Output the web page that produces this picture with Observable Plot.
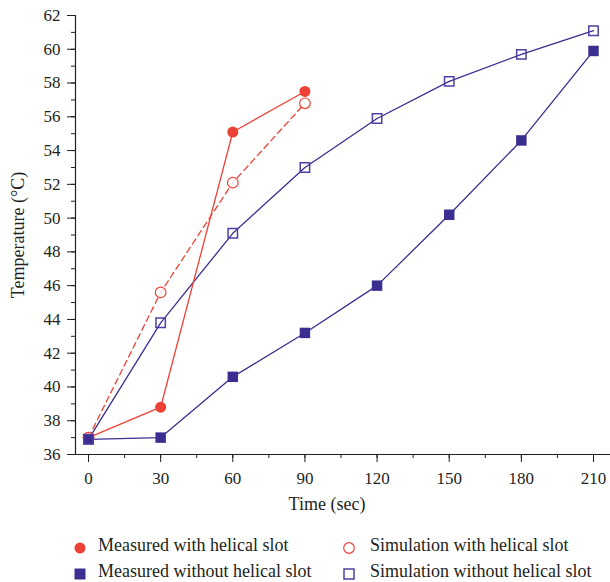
<!DOCTYPE html>
<html>
<head>
<meta charset="utf-8">
<script src="https://cdn.jsdelivr.net/npm/d3@7"></script>
<script src="https://cdn.jsdelivr.net/npm/@observablehq/plot@0.6"></script>
<style>
  html, body { margin: 0; padding: 0; background: #fff; }
  body { width: 610px; height: 582px; overflow: hidden; position: relative; font-family: "Liberation Serif", serif; color: #231f20; }
  #legend { position: absolute; left: 0; top: 0; width: 610px; height: 582px; font-size: 18px; pointer-events: none; }
  .mk { position: absolute; width: 14px; height: 14px; }
  .lab { position: absolute; white-space: nowrap; line-height: 20px; height: 20px; }
</style>
</head>
<body>
<div id="chart"></div>
<div id="legend"></div>
<script>
const timeHelical = [0, 30, 60, 90];
const timeFull = [0, 30, 60, 90, 120, 150, 180, 210];
const measuredWith = [37.0, 38.8, 55.1, 57.5];
const simulationWith = [37.0, 45.6, 52.1, 56.8];
const measuredWithout = [36.9, 37.0, 40.6, 43.2, 46.0, 50.2, 54.6, 59.9];
const simulationWithout = [36.9, 43.8, 49.1, 53.0, 55.9, 58.1, 59.7, 61.1];
const xTicks = [0, 30, 60, 90, 120, 150, 180, 210];
const xMinorTicks = d3.range(0, 211, 15);
const yTicks = d3.range(36, 63, 2);
const yMinorTicks = d3.range(36, 63, 1);
const seriesNames = ["Measured with helical slot", "Simulation with helical slot", "Measured without helical slot", "Simulation without helical slot"];

const RED = "#ee4136";
const NAVY = "#3a2e91";
const NAVY_OPEN = "#4b40a3";

const toRows = (xs, ys) => xs.map((x, i) => ({x, y: ys[i]}));
const mWith = toRows(timeHelical, measuredWith);
const sWith = toRows(timeHelical, simulationWith);
const mWithout = toRows(timeFull, measuredWithout);
const sWithout = toRows(timeFull, simulationWithout);

const xDomain = [-5.41, 217.07];
const yDomain = [36, 62];

const chart = Plot.plot({
  width: 610,
  height: 525,
  marginTop: 15,
  marginBottom: 71,
  marginLeft: 75,
  marginRight: 0,
  style: {fontFamily: "Liberation Serif, serif", fontSize: "17px", color: "#231f20", background: "#fff"},
  x: {domain: xDomain},
  y: {domain: yDomain},
  marks: [
    Plot.axisY(yMinorTicks, {tickSize: 4, text: null, label: null, strokeWidth: 1}),
    Plot.axisY(yTicks, {tickSize: 8, tickPadding: 7, label: null, strokeWidth: 1}),
    Plot.axisX(xMinorTicks, {tickSize: 4, text: null, label: null, strokeWidth: 1}),
    Plot.axisX(xTicks, {tickSize: 8, tickPadding: 9, label: null, strokeWidth: 1}),
    Plot.ruleX([xDomain[0]], {stroke: "#231f20", strokeWidth: 1.2}),
    Plot.ruleY([yDomain[0]], {stroke: "#231f20", strokeWidth: 1.2}),
    Plot.text(["Temperature (°C)"], {frameAnchor: "left", textAnchor: "middle", dx: -57, rotate: -90, fontSize: 18, fill: "#231f20"}),
    Plot.text(["Time (sec)"], {frameAnchor: "bottom", textAnchor: "middle", dx: -16, dy: 55, fontSize: 18, fill: "#231f20"}),
    Plot.line(sWithout, {x: "x", y: "y", stroke: NAVY, strokeWidth: 1.3}),
    Plot.line(mWithout, {x: "x", y: "y", stroke: NAVY, strokeWidth: 1.3}),
    Plot.line(sWith, {x: "x", y: "y", stroke: RED, strokeWidth: 1.3, strokeDasharray: "6,4"}),
    Plot.line(mWith, {x: "x", y: "y", stroke: RED, strokeWidth: 1.3}),
    Plot.dot(mWith, {x: "x", y: "y", r: 5.5, fill: RED, stroke: "none"}),
    Plot.dot(sWith, {x: "x", y: "y", r: 5.3, fill: "white", fillOpacity: 0.85, stroke: RED, strokeWidth: 1.2}),
    Plot.dot(mWithout, {x: "x", y: "y", symbol: "square", r: 5.9, fill: NAVY, stroke: "none"}),
    Plot.dot(sWithout, {x: "x", y: "y", symbol: "square", r: 5.3, fill: "none", stroke: NAVY_OPEN, strokeWidth: 1.5})
  ]
});
document.getElementById("chart").appendChild(chart);

// Legend
const markers = [
  `<svg width="14" height="14"><circle cx="7" cy="7" r="5.5" fill="${RED}"/></svg>`,
  `<svg width="14" height="14"><circle cx="7" cy="7" r="5.3" fill="white" stroke="${RED}" stroke-width="1.2"/></svg>`,
  `<svg width="14" height="14"><rect x="1.5" y="1.5" width="11" height="11" fill="${NAVY}"/></svg>`,
  `<svg width="14" height="14"><rect x="2" y="2" width="10" height="10" fill="none" stroke="${NAVY_OPEN}" stroke-width="1.5"/></svg>`
];
// [marker center x, text left x, row center y]
const positions = [[80, 98, 546], [349, 370, 546], [80, 98, 572], [349, 370, 572]];
const legend = document.getElementById("legend");
seriesNames.forEach((name, i) => {
  const [mx, tx, cy] = positions[i];
  const m = document.createElement("div");
  m.className = "mk";
  m.style.left = (mx - 7) + "px";
  m.style.top = (cy - 7) + "px";
  m.innerHTML = markers[i];
  legend.appendChild(m);
  const t = document.createElement("div");
  t.className = "lab";
  t.style.left = tx + "px";
  t.style.top = (cy - 11) + "px";
  t.textContent = name;
  legend.appendChild(t);
});
</script>
</body>
</html>
